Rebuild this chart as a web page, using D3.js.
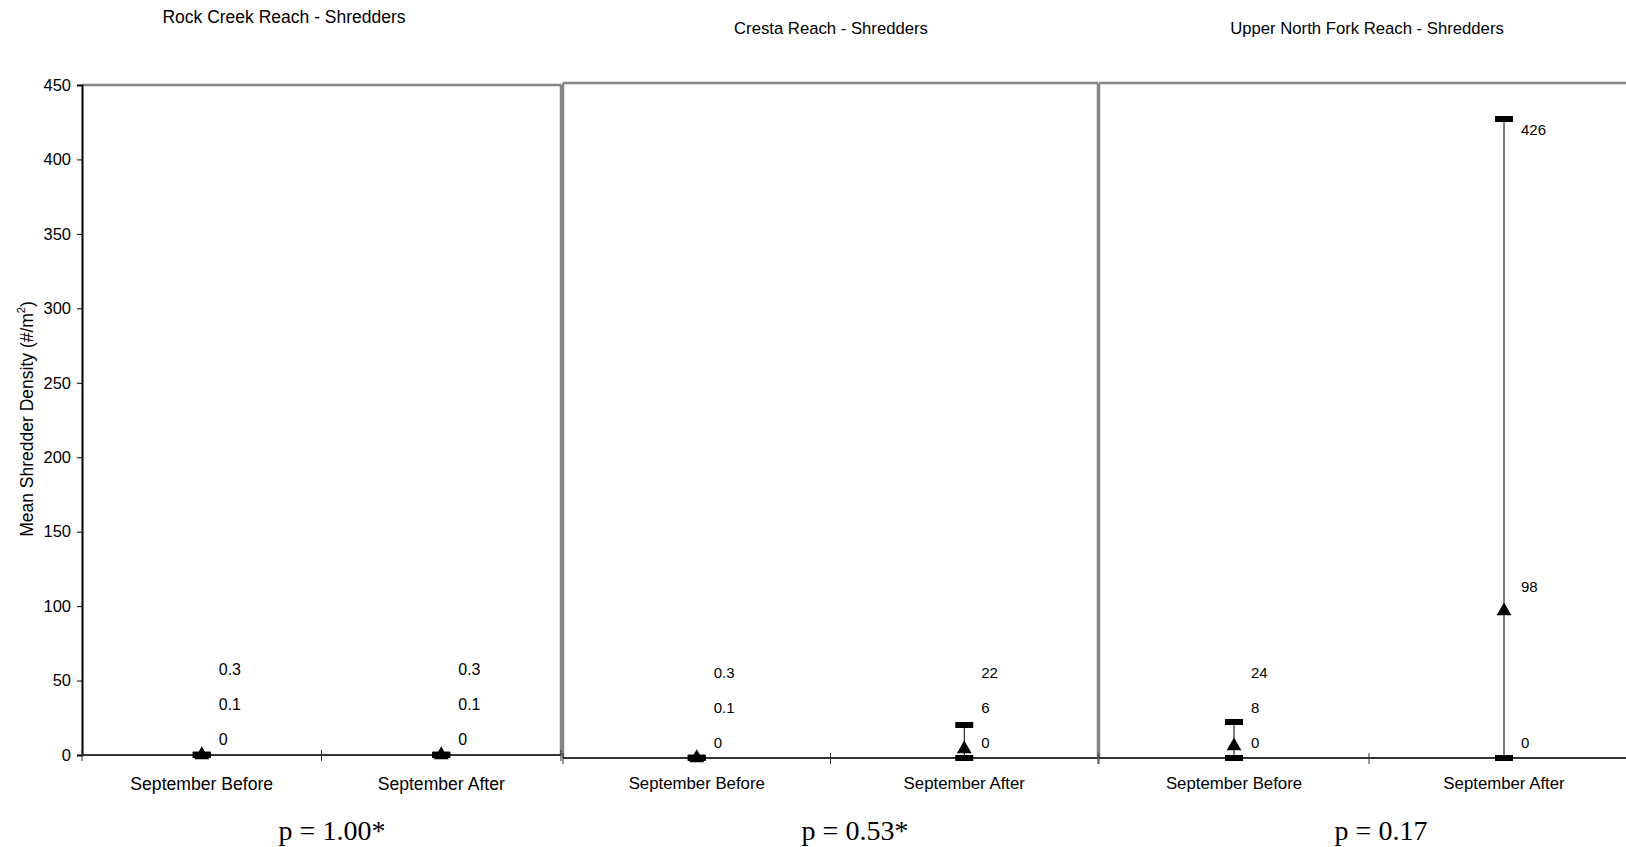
<!DOCTYPE html>
<html>
<head>
<meta charset="utf-8">
<script src="https://cdn.jsdelivr.net/npm/d3@7"></script>
<style>
  html, body { margin: 0; padding: 0; background: #fff; }
  svg { display: block; }
  text { fill: #000; }
</style>
</head>
<body>
<svg id="chart" width="1626" height="847"></svg>
<script>
// ---------------- DATA ----------------
const panelTitles = ["Rock Creek Reach - Shredders", "Cresta Reach - Shredders", "Upper North Fork Reach - Shredders"];
const categories = ["September Before", "September After"];
const lowValues  = [[0, 0], [0, 0], [0, 0]];
const meanValues = [[0.1, 0.1], [0.1, 6], [8, 98]];
const highValues = [[0.3, 0.3], [0.3, 22], [24, 426]];
const pValues = ["p = 1.00*", "p = 0.53*", "p = 0.17"];
const yTicks = [0, 50, 100, 150, 200, 250, 300, 350, 400, 450];
const yMax = 450;

// ---------------- LAYOUT (style) ----------------
const SANS = "'Liberation Sans', Arial, sans-serif";
const SERIF = "'Liberation Serif', 'Times New Roman', serif";
const layout = [
  { x0: 82,   x1: 561,  top: 85, bottom: 755, titleX: 284,  titleY: 18, titleFont: 17.5, catFont: 17.6, lblFont: 16, borders: ["top", "right"], pX: 332 },
  { x0: 563,  x1: 1098, top: 83, bottom: 758, titleX: 831,  titleY: 30, titleFont: 16.7, catFont: 16.8, lblFont: 15, borders: ["left", "top", "right"], pX: 855 },
  { x0: 1099, x1: 1639, top: 83, bottom: 758, titleX: 1367, titleY: 30, titleFont: 16.7, catFont: 16.8, lblFont: 15, borders: ["left", "top"], pX: 1381 }
];

const svg = d3.select("#chart");
const gray = "#858585";

layout.forEach((L, pi) => {
  const g = svg.append("g");
  const x = d3.scaleBand().domain(categories).range([L.x0, L.x1]);
  const y = d3.scaleLinear().domain([0, yMax]).range([L.bottom, L.top]);

  // Panel borders
  const bLines = {
    top:   [L.x0, L.top, L.x1, L.top],
    right: [L.x1, L.top, L.x1, L.bottom],
    left:  [L.x0, L.top, L.x0, L.bottom]
  };
  L.borders.forEach(b => {
    const c = bLines[b];
    g.append("line").attr("x1", c[0]).attr("y1", c[1]).attr("x2", c[2]).attr("y2", c[3])
      .attr("stroke", gray).attr("stroke-width", 2.5);
  });

  // Title
  g.append("text").attr("x", L.titleX).attr("y", L.titleY)
    .attr("text-anchor", "middle").attr("dominant-baseline", "middle")
    .style("font-family", SANS).style("font-size", L.titleFont + "px").text(panelTitles[pi]);

  // Y axis (only first panel)
  if (pi === 0) {
    const yAxis = d3.axisLeft(y).tickValues(yTicks).tickSize(5).tickPadding(6);
    const ya = g.append("g").attr("transform", `translate(${L.x0},0)`).call(yAxis);
    ya.select(".domain").attr("stroke", "#000").attr("stroke-width", 2);
    ya.selectAll(".tick line").attr("stroke", "#000").attr("stroke-width", 1);
    ya.selectAll(".tick text").style("font-size", "16.5px").style("font-family", SANS).attr("fill", "#000");
    // Y title
    const t = g.append("text").attr("transform", `translate(28, ${(L.top + L.bottom) / 2 - 1}) rotate(-90)`)
      .attr("text-anchor", "middle").attr("dominant-baseline", "middle")
      .style("font-family", SANS).style("font-size", "17.5px");
    t.append("tspan").text("Mean Shredder Density (#/m");
    t.append("tspan").attr("baseline-shift", "super").style("font-size", "11px").text("2");
    t.append("tspan").text(")");
  }

  // Baseline with cross ticks at band boundaries
  g.append("line").attr("x1", L.x0).attr("x2", L.x1).attr("y1", L.bottom).attr("y2", L.bottom)
    .attr("stroke", "#333").attr("stroke-width", 2);
  const bounds = [L.x0, L.x0 + x.bandwidth(), L.x1];
  bounds.forEach(bx => {
    g.append("line").attr("x1", bx).attr("x2", bx).attr("y1", L.bottom - 5).attr("y2", L.bottom + 6)
      .attr("stroke", "#333").attr("stroke-width", 1);
  });

  // Category labels
  categories.forEach(c => {
    g.append("text").attr("x", x(c) + x.bandwidth() / 2).attr("y", 785)
      .attr("text-anchor", "middle").attr("dominant-baseline", "middle")
      .style("font-family", SANS).style("font-size", L.catFont + "px").text(c);
  });

  // Data marks
  categories.forEach((c, ci) => {
    const cx = x(c) + x.bandwidth() / 2;
    const lo = lowValues[pi][ci], mn = meanValues[pi][ci], hi = highValues[pi][ci];
    // vertical range line
    g.append("line").attr("x1", cx).attr("x2", cx).attr("y1", y(lo)).attr("y2", y(hi))
      .attr("stroke", "#000").attr("stroke-width", 1);
    // dash markers at low and high
    [lo, hi].forEach(v => {
      g.append("rect").attr("x", cx - 9).attr("y", y(v) - 3).attr("width", 18).attr("height", 6).attr("fill", "#000");
    });
    // triangle marker at mean
    g.append("path").attr("d", d3.symbol().type(d3.symbolTriangle).size(95)())
      .attr("transform", `translate(${cx},${y(mn)})`).attr("fill", "#000");

    // data labels with simple stacking to avoid overlap
    const gap = 35;
    const loY = y(lo) - 14;
    const mnY = Math.min(y(mn) - 23, loY - gap);
    let hiY;
    if (y(hi) - 30 < L.top + 20) hiY = y(hi) + 12;
    else hiY = Math.min(y(hi) - 20, mnY - gap);
    const lx = cx + 17;
    [[lo, loY], [mn, mnY], [hi, hiY]].forEach(([v, ly]) => {
      g.append("text").attr("x", lx).attr("y", ly).attr("dominant-baseline", "middle")
        .style("font-family", SANS).style("font-size", L.lblFont + "px").text(v);
    });
  });

  // p-value
  g.append("text").attr("x", L.pX).attr("y", 840).attr("text-anchor", "middle")
    .style("font-family", SERIF).style("font-size", "28px")
    .text(pValues[pi]);
});
</script>
</body>
</html>
